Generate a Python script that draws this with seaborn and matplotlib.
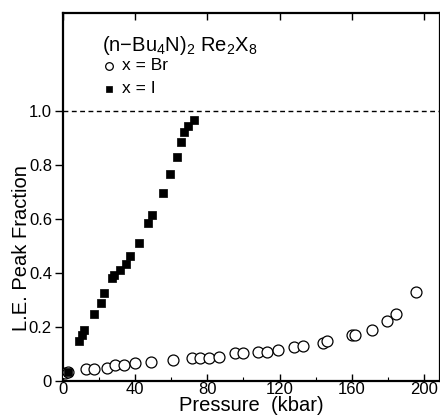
import matplotlib
matplotlib.use("Agg")
import matplotlib.pyplot as plt
import seaborn as sns
import pandas as pd
from matplotlib.ticker import MultipleLocator

# Data
x_I = [2.9, 9.1, 10.4, 11.7, 17.4, 20.9, 22.8, 27.0, 28.3, 31.7, 34.8, 36.9,
       42.2, 47.2, 49.4, 55.2, 59.1, 63.2, 65.6, 67.2, 69.1, 72.8]
y_I = [0.034, 0.149, 0.170, 0.189, 0.250, 0.290, 0.327, 0.380, 0.393, 0.413,
       0.432, 0.464, 0.512, 0.584, 0.615, 0.695, 0.767, 0.831, 0.886, 0.923,
       0.944, 0.967]

x_Br = [1.0, 2.5, 12.8, 17.2, 24.3, 28.9, 33.9, 40.0, 48.9, 60.7, 71.5, 76.1,
        80.7, 86.3, 95.6, 99.8, 107.9, 113.2, 119.3, 128.3, 133.2, 144.1,
        146.5, 160.4, 161.7, 171.5, 179.8, 184.4, 195.6]
y_Br = [0.030, 0.032, 0.044, 0.044, 0.050, 0.059, 0.061, 0.065, 0.071, 0.078,
        0.084, 0.085, 0.087, 0.089, 0.102, 0.102, 0.108, 0.108, 0.115, 0.125,
        0.130, 0.142, 0.149, 0.170, 0.170, 0.189, 0.222, 0.247, 0.328]

x_ticks = [0, 40, 80, 120, 160, 200]
y_ticks = [0, 0.2, 0.4, 0.6, 0.8, 1.0]
y_ticklabels = ["0", "0.2", "0.4", "0.6", "0.8", "1.0"]

sns.set_style("ticks")
plt.rcParams["font.family"] = ["Liberation Sans", "DejaVu Sans"]
plt.rcParams["mathtext.default"] = "regular"
plt.rcParams["text.color"] = "black"
plt.rcParams["axes.labelcolor"] = "black"
plt.rcParams["xtick.color"] = "black"
plt.rcParams["ytick.color"] = "black"

df_I = pd.DataFrame({"p": x_I, "f": y_I})
df_Br = pd.DataFrame({"p": x_Br, "f": y_Br})

fig = plt.figure(figsize=(4.40, 4.17), dpi=100)
ax = fig.add_axes([0.1432, 0.0863, 0.857, 0.8825])

sns.scatterplot(data=df_Br, x="p", y="f", ax=ax, marker="o", s=62,
                facecolor="white", edgecolor="black", linewidth=0.9,
                zorder=3, label="x = Br")
sns.scatterplot(data=df_I, x="p", y="f", ax=ax, marker="s", s=32,
                color="black", edgecolor="black", linewidth=0.5,
                zorder=4, label="x = I")

ax.axhline(1.0, color="black", lw=1.0, ls=(0, (3.5, 2.5)), zorder=1)

ax.set_xlim(0, 209)
ax.set_ylim(0, 1.363)

ax.set_xticks(x_ticks)
ax.xaxis.set_minor_locator(MultipleLocator(20))
ax.set_yticks(y_ticks)
ax.set_yticklabels(y_ticklabels)

ax.tick_params(axis="x", direction="in", length=5, width=1, labelsize=12,
               pad=1, top=True)
ax.tick_params(axis="x", which="minor", direction="in", length=3, width=0.8,
               top=False)
ax.tick_params(axis="y", direction="out", length=6, width=1, labelsize=12,
               pad=2, right=True)

for side in ["left", "bottom", "top", "right"]:
    ax.spines[side].set_visible(True)
    ax.spines[side].set_linewidth(1.6)
    ax.spines[side].set_color("black")

ax.set_xlabel("Pressure  (kbar)", fontsize=14.5, labelpad=-1)
ax.set_ylabel("L.E. Peak Fraction", fontsize=14.5)
ax.yaxis.set_label_coords(-0.085, 0.36)

leg = ax.legend(loc="upper left", frameon=False, fontsize=12.5,
                title="(n$-$Bu$_4$N)$_2$ Re$_2$X$_8$", title_fontsize=14.5,
                handletextpad=0.4, borderaxespad=0.3, labelspacing=0.45,
                handlelength=0.8, markerscale=0.7,
                bbox_to_anchor=(0.07, 0.975))
leg._legend_box.align = "left"
leg._legend_box.sep = 0.5

fig.savefig("out.png", dpi=100)
